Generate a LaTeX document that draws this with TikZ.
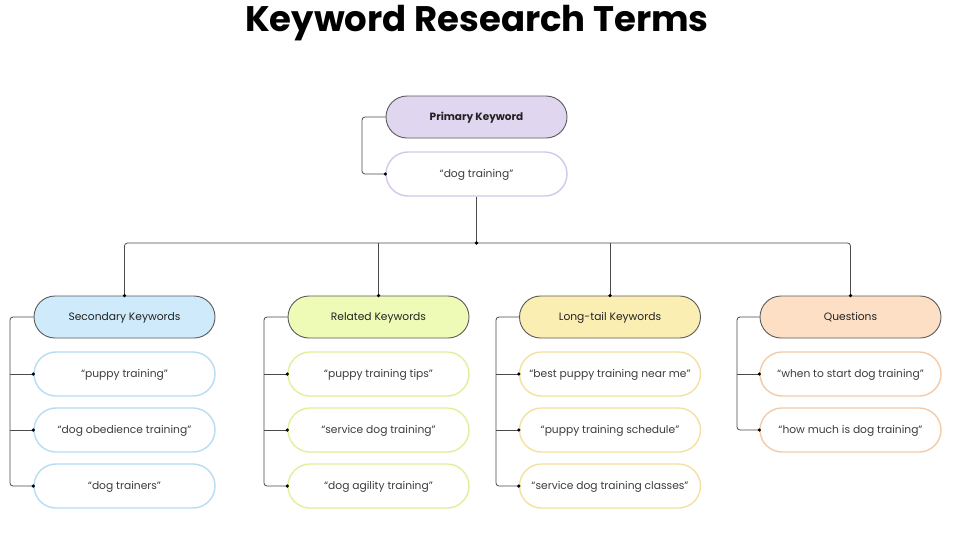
\documentclass[tikz,border=0pt]{standalone}
\usepackage{fontspec}
\setmainfont{Poppins}
\definecolor{linec}{HTML}{4A4A4A}
\definecolor{bordc}{HTML}{5A5A5A}
\definecolor{txtc}{HTML}{222222}
\definecolor{ctxt}{HTML}{3C3C3C}
\definecolor{purf}{HTML}{E1D6EF}
\definecolor{purb}{HTML}{D5C6EC}
\definecolor{bluf}{HTML}{CFEBFB}
\definecolor{blub}{HTML}{B5DDF4}
\definecolor{limf}{HTML}{EEFBB6}
\definecolor{limb}{HTML}{E0F09A}
\definecolor{yelf}{HTML}{FBEEB2}
\definecolor{yelb}{HTML}{F5E19E}
\definecolor{pchf}{HTML}{FDDFC5}
\definecolor{pchb}{HTML}{F4CBA8}
\tikzset{
  cat/.style={draw=bordc, line width=0.9pt, rounded corners=21pt, minimum width=181pt, minimum height=42pt, inner sep=0pt, text=txtc, text height=8pt, text depth=2pt, font=\fontsize{10.7}{12}\selectfont},
  kw/.style={draw=#1, line width=1.4pt, fill=white, rounded corners=22pt, minimum width=181pt, minimum height=44pt, inner sep=0pt, text=ctxt, text height=8pt, text depth=2pt, font=\fontsize{10.7}{12}\selectfont},
  conn/.style={draw=linec, line width=0.8pt, rounded corners=3pt},
  dot/.style={fill=black, circle, inner sep=0pt, minimum size=3.6pt}
}
\begin{document}
\begin{tikzpicture}[x=1pt,y=-1pt]
\useasboundingbox[fill=white] (0,0) rectangle (957,541);
\node[font=\bfseries\fontsize{35.5}{38}\selectfont, text=black] (title) at (477,23) {Keyword Research Terms};

\node[cat, fill=purf, font=\bfseries\fontsize{10.5}{12}\selectfont] (prim) at (476.5,117) {Primary Keyword};
\node[kw=purb] (dog) at (476.5,174) {“dog training”};

\node[cat, fill=bluf] (sec) at (124.5,317) {Secondary Keywords};
\node[cat, fill=limf] (rel) at (378.5,317) {Related Keywords};
\node[cat, fill=yelf] (lt) at (610,317) {Long-tail Keywords};
\node[cat, fill=pchf] (q) at (850.5,317) {Questions};

\node[kw=blub] (s1) at (124.5,374) {“puppy training”};
\node[kw=blub] (s2) at (124.5,430) {“dog obedience training”};
\node[kw=blub] (s3) at (124.5,486) {“dog trainers”};
\node[kw=limb] (r1) at (378.5,374) {“puppy training tips”};
\node[kw=limb] (r2) at (378.5,430) {“service dog training”};
\node[kw=limb] (r3) at (378.5,486) {“dog agility training”};
\node[kw=yelb] (l1) at (610,374) {“best puppy training near me”};
\node[kw=yelb] (l2) at (610,430) {“puppy training schedule”};
\node[kw=yelb] (l3) at (610,486) {“service dog training classes”};
\node[kw=pchb] (q1) at (850.5,374) {“when to start dog training”};
\node[kw=pchb] (q2) at (850.5,430) {“how much is dog training”};

% primary bracket
\coordinate (pbus) at (362,117);
\draw[conn] (prim.west) -- (pbus) |- (dog.west);
\node[dot] at (dog.west) {};

% trunk
\coordinate (hub) at (476.5,243);
\draw[conn] (dog.south) -- (hub);
\draw[conn] (sec.north) |- (hub) -| (q.north);
\draw[conn] (rel.north |- hub) -- (rel.north);
\draw[conn] (lt.north |- hub) -- (lt.north);
\node[dot] at (hub) {};
\foreach \n in {sec,rel,lt,q} \node[dot] at (\n.north) {};

% category brackets
\coordinate (sbus) at (10,317);
\draw[conn] (sec.west) -- (sbus) |- (s3.west);
\draw[conn] (sbus |- s1.west) -- (s1.west);
\draw[conn] (sbus |- s2.west) -- (s2.west);
\coordinate (rbus) at (264,317);
\draw[conn] (rel.west) -- (rbus) |- (r3.west);
\draw[conn] (rbus |- r1.west) -- (r1.west);
\draw[conn] (rbus |- r2.west) -- (r2.west);
\coordinate (lbus) at (496,317);
\draw[conn] (lt.west) -- (lbus) |- (l3.west);
\draw[conn] (lbus |- l1.west) -- (l1.west);
\draw[conn] (lbus |- l2.west) -- (l2.west);
\coordinate (qbus) at (737,317);
\draw[conn] (q.west) -- (qbus) |- (q2.west);
\draw[conn] (qbus |- q1.west) -- (q1.west);
\foreach \n in {s1,s2,s3,r1,r2,r3,l1,l2,l3,q1,q2} \node[dot] at (\n.west) {};
\end{tikzpicture}
\end{document}
